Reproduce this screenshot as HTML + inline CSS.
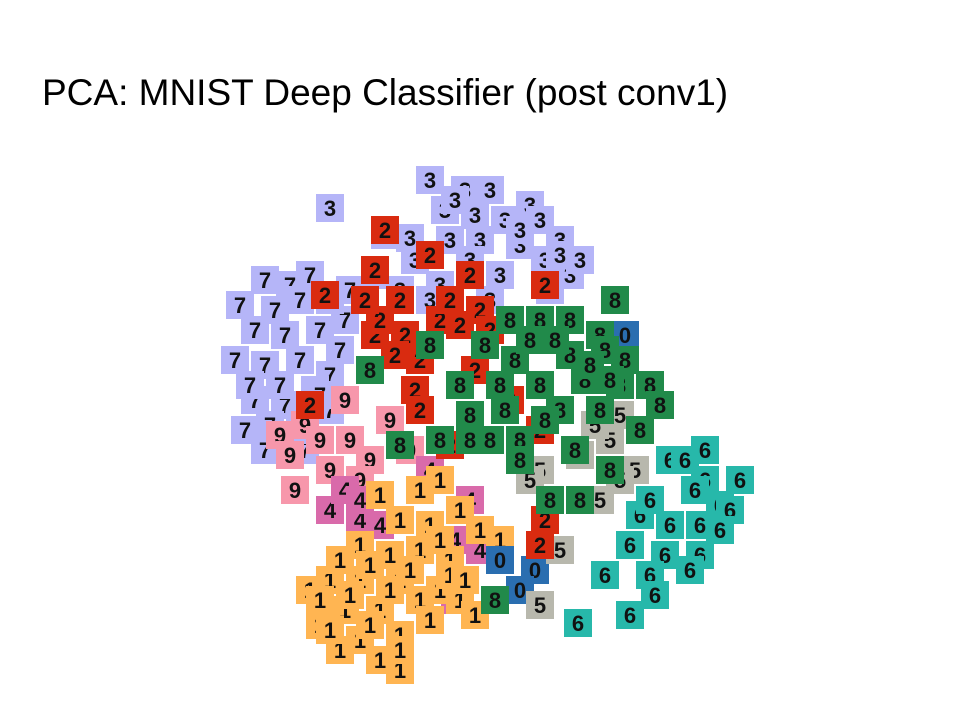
<!DOCTYPE html>
<html><head><meta charset="utf-8"><style>
body{margin:0;background:#fff;width:960px;height:720px;overflow:hidden;font-family:"Liberation Sans",sans-serif}
#title{position:absolute;left:42px;top:72px;font-size:37px;color:#000;white-space:nowrap}
svg{position:absolute;left:0;top:0}
</style></head><body>
<div id="title">PCA: MNIST Deep Classifier (post conv1)</div>
<svg id="chart" width="960" height="720"></svg>
<script>
const colors={"3":"#b5b5f8","7":"#b5b5f8","2":"#d92b10","8":"#218a4a","5":"#b8b8ad","6":"#27b8aa","1":"#ffb552","9":"#f797ab","4":"#d96aaa","0":"#2a6eb0"};
const pc1_3=[430,465,490,530,330,445,475,505,540,385,410,450,480,520,560,545,570,440,500,375,400,455,520,560,580,415,470,550,490,430];
const pc2_3=[180,190,190,205,208,210,215,220,220,235,238,240,240,245,240,260,275,285,275,275,290,200,230,255,260,260,260,290,300,300];
const pc1_7=[240,265,290,310,255,285,320,345,235,265,300,330,255,285,245,265,305,330,350,365,275,300,330,250,280,315,340,270,300,320];
const pc2_7=[305,280,285,275,330,335,330,320,360,365,360,375,400,405,430,450,450,410,290,300,310,300,300,385,385,390,350,425,430,395];
const pc1_2=[385,375,430,470,325,400,375,405,440,460,395,415,475,310,450,420,545,480,540,545,540,510,450,490,420,380,365];
const pc2_2=[230,270,255,275,295,300,335,335,320,325,355,390,370,405,445,410,285,310,430,520,545,400,300,330,360,320,300];
const pc1_8=[615,510,540,570,600,430,485,515,570,605,370,460,500,540,585,620,650,470,560,600,660,440,490,520,575,520,550,580,495,400,640,610,530,555,590,625,505,545,470,610];
const pc2_8=[300,320,320,320,335,345,345,360,355,350,370,385,385,385,380,385,385,415,410,410,405,440,440,440,450,460,500,500,600,445,430,470,340,340,365,360,410,420,440,380];
const pc1_5=[540,620,610,580,635,600,560,540,530,595,620];
const pc2_5=[470,415,440,455,470,500,550,605,480,425,480];
const pc1_6=[705,670,705,740,695,720,640,670,700,730,630,665,700,605,650,690,655,630,578,685,720,650];
const pc2_6=[450,460,480,480,490,505,515,525,525,510,545,555,555,575,575,570,595,615,623,460,530,500];
const pc1_1=[380,420,440,460,400,430,480,360,390,420,450,330,360,400,440,310,345,380,420,460,320,360,400,340,380,400,475,500,340,370,410,450,320,350,390,430,465,370,330,400,440];
const pc2_1=[495,490,480,510,520,525,530,545,555,550,560,580,580,580,590,590,610,610,600,600,625,640,635,650,660,670,615,540,560,565,570,575,600,595,590,620,580,625,630,650,540];
const pc1_9=[280,305,350,295,330,370,390,345,290,410,320,360];
const pc2_9=[435,425,440,490,470,460,420,400,455,450,440,480];
const pc1_4=[330,360,380,345,470,480,455,430,360,455];
const pc2_4=[510,520,525,490,500,550,600,470,500,540];
const pc1_0=[500,535,625,520];
const pc2_0=[560,570,335,590];
const groups=[["7",pc1_7,pc2_7],["3",pc1_3,pc2_3],["9",pc1_9,pc2_9],["4",pc1_4,pc2_4],["1",pc1_1,pc2_1],["6",pc1_6,pc2_6],["0",pc1_0,pc2_0],["5",pc1_5,pc2_5],["2",pc1_2,pc2_2],["8",pc1_8,pc2_8]];
const xDom=[200,760],xRng=[200,760],yDom=[150,700],yRng=[150,700];
const xS=v=>xRng[0]+(v-xDom[0])/(xDom[1]-xDom[0])*(xRng[1]-xRng[0]);
const yS=v=>yRng[0]+(v-yDom[0])/(yDom[1]-yDom[0])*(yRng[1]-yRng[0]);
const svg=document.getElementById('chart');const NS="http://www.w3.org/2000/svg";
groups.forEach(([d,xs,ys])=>{
  xs.forEach((x,i)=>{
    const g=document.createElementNS(NS,'g');
    
    
    const cx=xS(x),cy=yS(ys[i]),s=28;
    const r=document.createElementNS(NS,'rect');
    r.setAttribute('x',cx-s/2);r.setAttribute('y',cy-s/2);r.setAttribute('width',s);r.setAttribute('height',s);
    r.setAttribute('fill',colors[d]);
    const t=document.createElementNS(NS,'text');
    t.setAttribute('x',cx);t.setAttribute('y',cy+8);t.setAttribute('text-anchor','middle');
    t.setAttribute('font-size','22');t.setAttribute('font-family','Liberation Sans, sans-serif');
    t.setAttribute('font-weight','bold');t.setAttribute('fill','#111');
    t.textContent=d;
    g.appendChild(r);g.appendChild(t);svg.appendChild(g);
  });
});
</script>
</body></html>
